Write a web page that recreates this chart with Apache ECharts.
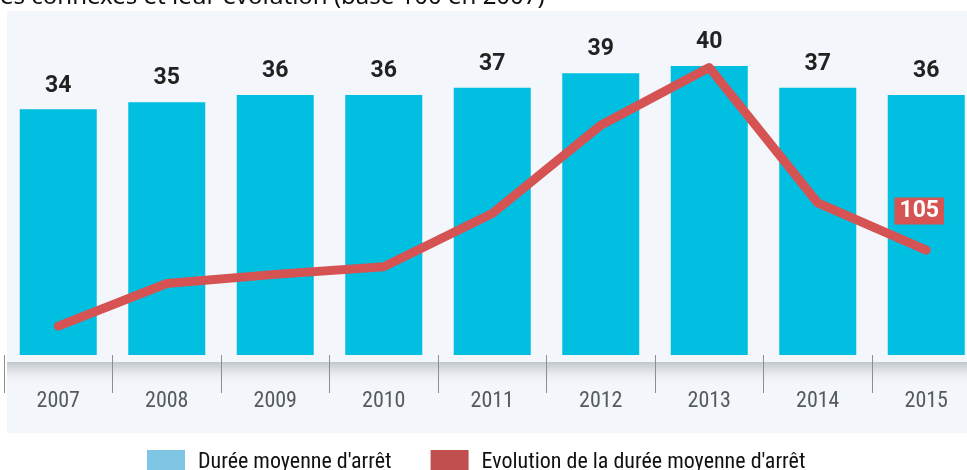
<!DOCTYPE html>
<html>
<head>
<meta charset="utf-8">
<script src="https://cdn.jsdelivr.net/npm/echarts@6/dist/echarts.min.js"></script>
<style>html,body{margin:0;padding:0;background:#fff}#c{width:967px;height:470px}</style>
</head>
<body>
<div id="c"></div>
<script>
var years = ['2007','2008','2009','2010','2011','2012','2013','2014','2015'];
var dureeMoyenne = [34, 35, 36, 36, 37, 39, 40, 37, 36];
var evolution = [100, 102.8, 103.4, 103.9, 107.4, 113.2, 117.0, 108.1, 105];
var seriesNames = ["Durée moyenne d'arrêt", "Evolution de la durée moyenne d'arrêt"];
var titleText = "es connexes et leur évolution (base 100 en 2007)";

var condensed = "'Roboto Condensed','Liberation Sans Narrow','Roboto'";
var chart = echarts.init(document.getElementById('c'), null, {renderer: 'canvas'});
chart.setOption({
  backgroundColor: '#ffffff',
  animation: false,
  graphic: [
    {type: 'rect', z: -20, shape: {x: 7, y: 11, width: 960, height: 422}, style: {fill: '#f3f6fa'}},
    {type: 'rect', z: -10, shape: {x: 7, y: 362, width: 960, height: 24},
      style: {fill: new echarts.graphic.LinearGradient(0, 0, 0, 1, [
        {offset: 0, color: 'rgba(150,158,166,0.55)'},
        {offset: 1, color: 'rgba(243,246,250,0)'}])}},
    {type: 'text', left: 0, top: -15, style: {text: titleText, font: '24px "Noto Sans"', fill: '#111'}}
  ],
  legend: {
    left: 142, top: 445, itemWidth: 38, itemHeight: 24, itemGap: 39, icon: 'rect',
    textStyle: {fontFamily: condensed, fontSize: 22, color: '#111', padding: [0, 0, 0, 8]},
    data: [
      {name: seriesNames[0], itemStyle: {color: '#7fc6e4'}},
      {name: seriesNames[1], itemStyle: {color: '#c24f4f'}}
    ]
  },
  grid: {left: 4, width: 976.5, top: 66, height: 289, containLabel: false, outerBoundsMode: 'none'},
  xAxis: {
    type: 'category', data: years, boundaryGap: true,
    axisLine: {show: false},
    axisTick: {show: true, interval: 0, length: 38, lineStyle: {color: '#8a8f94', width: 1}},
    axisLabel: {margin: 35, fontFamily: condensed, fontSize: 22, color: '#555a60', interval: 0}
  },
  yAxis: [
    {type: 'value', min: 0, max: 40, show: false, splitLine: {show: false}},
    {type: 'value', min: 98.1, max: 117.1, show: false, splitLine: {show: false}}
  ],
  series: [
    {
      name: seriesNames[0], type: 'bar', data: dureeMoyenne, barWidth: 77, yAxisIndex: 0,
      itemStyle: {color: '#00bfe0'},
      label: {show: true, position: 'top', distance: 12, fontFamily: 'Roboto', fontWeight: 'bold', fontSize: 23, color: '#222'}
    },
    {
      name: seriesNames[1], type: 'line', data: evolution, yAxisIndex: 1, z: 5,
      symbol: 'none', lineStyle: {color: '#d65353', width: 9, cap: 'round', join: 'round'},
      itemStyle: {color: '#d65353'},
      markPoint: {
        symbol: 'rect', symbolSize: 0,
        data: [{coord: [8, 105], value: 105}],
        label: {show: true, formatter: '105', backgroundColor: '#d65353', color: '#fff',
          fontFamily: 'Roboto', fontWeight: 'bold', fontSize: 23, padding: [3, 5, 1, 5],
          offset: [-7, -39]}
      }
    }
  ]
});
</script>
</body>
</html>
